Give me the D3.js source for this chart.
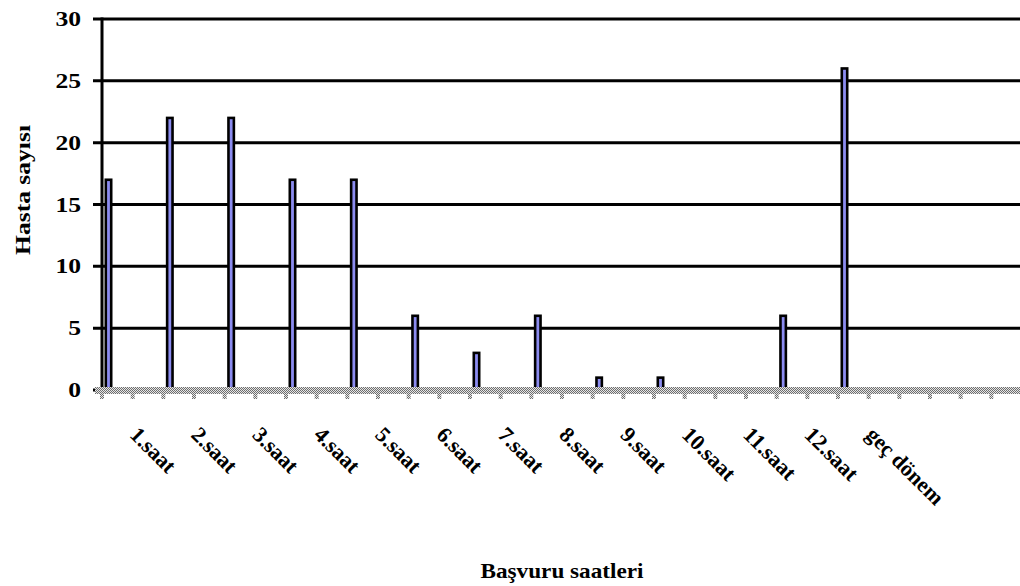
<!DOCTYPE html>
<html>
<head>
<meta charset="utf-8">
<script src="https://cdn.jsdelivr.net/npm/d3@7"></script>
<style>
  html, body { margin: 0; padding: 0; background: #fff; }
  svg { display: block; }
  text { font-family: "Liberation Serif", "Times New Roman", serif; font-weight: bold; fill: #000; }
</style>
</head>
<body>
<svg id="chart" width="1020" height="586"></svg>
<script>
// Patients per hour of admission
const categories = ["1.saat", "2.saat", "3.saat", "4.saat", "5.saat", "6.saat", "7.saat",
                    "8.saat", "9.saat", "10.saat", "11.saat", "12.saat", "geç dönem"];
const patients   = [17, 22, 22, 17, 17, 6, 3, 6, 1, 1, 0, 6, 26];
const yTicks     = [0, 5, 10, 15, 20, 25, 30];
const slotCount  = 15;   // category slots along the axis (last two unused)

const yTitle = "Hasta sayısı";
const xTitle = "Başvuru saatleri";

const svg = d3.select("#chart");
const W = 1020;
const plot = { left: 102, right: 1022, top: 19, bottom: 390 };

const x = d3.scaleBand()
  .domain(d3.range(slotCount))
  .range([plot.left, plot.right])
  .paddingInner(0).paddingOuter(0);

const y = d3.scaleLinear()
  .domain([0, 30])
  .range([plot.bottom, plot.top]);

// checkered fill used for the category axis band
const defs = svg.append("defs");
const pat = defs.append("pattern")
  .attr("id", "checker")
  .attr("width", 2).attr("height", 2)
  .attr("patternUnits", "userSpaceOnUse");
pat.append("rect").attr("width", 2).attr("height", 2).attr("fill", "#e6e6e6");
pat.append("rect").attr("width", 1).attr("height", 1).attr("fill", "#6e6e6e");
pat.append("rect").attr("x", 1).attr("y", 1).attr("width", 1).attr("height", 1).attr("fill", "#6e6e6e");

// horizontal gridlines with short outside ticks
svg.append("g")
  .selectAll("line")
  .data(yTicks.filter(d => d > 0))
  .join("line")
  .attr("x1", plot.left - 9)
  .attr("x2", W)
  .attr("y1", d => y(d))
  .attr("y2", d => y(d))
  .attr("stroke", "#000")
  .attr("stroke-width", 3);

// y tick labels
svg.append("g")
  .selectAll("text")
  .data(yTicks)
  .join("text")
  .attr("transform", d => `translate(81,${y(d) + 7}) scale(1.22,1)`)
  .attr("text-anchor", "end")
  .attr("font-size", 21)
  .text(d => d);

// bars
const barOffset = 3.8, barW = 5.4;
svg.append("g")
  .selectAll("rect")
  .data(patients)
  .join("rect")
  .attr("x", (d, i) => x(i) + barOffset)
  .attr("y", d => y(d))
  .attr("width", barW)
  .attr("height", d => y(0) - y(d))
  .attr("fill", "#8c8cf0")
  .attr("stroke", "#000")
  .attr("stroke-width", 2.6);

// value axis line
svg.append("line")
  .attr("x1", plot.left).attr("x2", plot.left)
  .attr("y1", plot.top - 1.5).attr("y2", plot.bottom + 2)
  .attr("stroke", "#000")
  .attr("stroke-width", 3);

// zero tick on the value axis
svg.append("line")
  .attr("x1", plot.left - 9).attr("x2", plot.left)
  .attr("y1", y(0)).attr("y2", y(0))
  .attr("stroke", "#000")
  .attr("stroke-width", 3);

// category axis band
svg.append("rect")
  .attr("x", plot.left - 7)
  .attr("y", y(0) - 3)
  .attr("width", W - (plot.left - 7))
  .attr("height", 7)
  .attr("fill", "url(#checker)");

// category tick marks at every half slot
const tickPos = [];
d3.range(slotCount).forEach(i => {
  tickPos.push(x(i));
  tickPos.push(x(i) + x.bandwidth() / 2);
});
svg.append("g")
  .selectAll("rect")
  .data(tickPos.filter(p => p < W))
  .join("rect")
  .attr("x", d => d - 2)
  .attr("y", y(0) + 4)
  .attr("width", 4)
  .attr("height", 5)
  .attr("fill", "url(#checker)");

// category labels, rotated
svg.append("g")
  .selectAll("text")
  .data(categories)
  .join("text")
  .attr("transform", (d, i) => `translate(${x(i) + x.bandwidth() / 2 - 4},436) rotate(45)`)
  .attr("text-anchor", "start")
  .attr("font-size", 22)
  .text(d => d);

// axis titles
svg.append("text")
  .attr("transform", "translate(30,190) rotate(-90)")
  .attr("text-anchor", "middle")
  .attr("font-size", 21)
  .attr("textLength", 130)
  .attr("lengthAdjust", "spacingAndGlyphs")
  .text(yTitle);

svg.append("text")
  .attr("x", 562)
  .attr("y", 578)
  .attr("text-anchor", "middle")
  .attr("font-size", 21)
  .attr("textLength", 163)
  .attr("lengthAdjust", "spacingAndGlyphs")
  .text(xTitle);
</script>
</body>
</html>
